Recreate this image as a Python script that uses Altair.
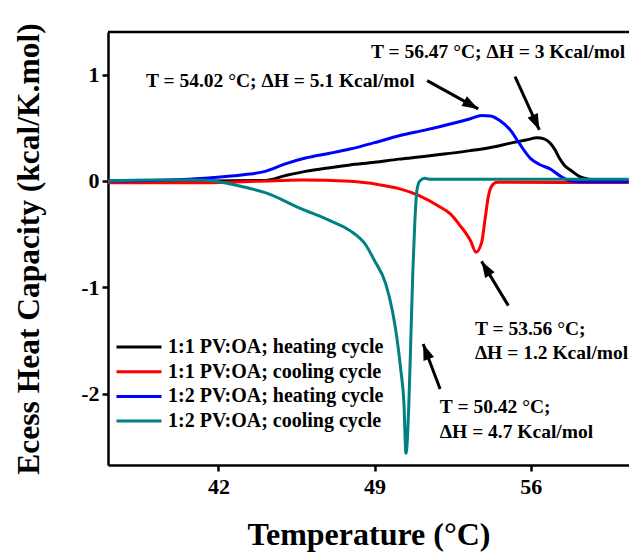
import math
import altair as alt
import pandas as pd

# ---------------- data ----------------
series_names = [
    "1:1 PV:OA; heating cycle",
    "1:1 PV:OA; cooling cycle",
    "1:2 PV:OA; heating cycle",
    "1:2 PV:OA; cooling cycle",
]
series_colors = ["#000000", "#FF0000", "#0000FF", "#008080"]

black_T = [37.05, 41.0, 44.1, 45.0, 45.9, 47.0, 47.9, 49.0, 50.1, 51.2, 52.2, 53.3, 54.2, 55.2,
           55.8, 56.3, 56.6, 56.9, 57.1, 57.3, 57.5, 57.8, 58.2, 58.7, 59.1, 60.4]
black_Cp = [0.0, 0.0, 0.005, 0.05, 0.09, 0.125, 0.15, 0.175, 0.205, 0.23, 0.255, 0.285, 0.315, 0.36,
            0.385, 0.405, 0.395, 0.35, 0.29, 0.21, 0.15, 0.10, 0.04, 0.012, 0.0, 0.0]

red_T = [37.05, 41.4, 44.1, 45.7, 47.9, 49.2, 50.1, 51.0, 51.9, 52.4, 52.8, 53.3, 53.55, 53.8,
         53.95, 54.1, 54.26, 54.5, 60.4]
red_Cp = [-0.018, -0.018, 0.0, 0.008, -0.004, -0.035, -0.072, -0.138, -0.24, -0.31, -0.41, -0.56,
          -0.67, -0.58, -0.37, -0.15, -0.045, -0.013, -0.015]

blue_T = [37.05, 39.0, 41.4, 43.2, 44.1, 45.0, 45.9, 47.0, 47.9, 49.0, 50.1, 51.3, 52.4, 53.3,
          53.8, 54.2, 54.6, 55.1, 55.5, 56.0, 56.4, 56.9, 57.3, 57.8, 58.2, 60.4]
blue_Cp = [0.0, 0.005, 0.025, 0.06, 0.09, 0.16, 0.215, 0.26, 0.30, 0.36, 0.425, 0.48, 0.535, 0.585,
           0.615, 0.61, 0.57, 0.475, 0.35, 0.21, 0.155, 0.11, 0.05, 0.0, -0.007, -0.007]

teal_T = [37.05, 39.0, 41.0, 41.8, 43.2, 44.1, 45.7, 47.0, 47.9, 48.6, 49.0, 49.5, 49.8, 50.0,
          50.18, 50.32, 50.41, 50.54, 50.63, 50.72, 50.81, 50.9, 51.03, 51.26, 51.5, 60.4]
teal_Cp = [0.0, 0.01, 0.01, 0.0, -0.06, -0.11, -0.26, -0.373, -0.467, -0.6, -0.749, -0.965, -1.22,
           -1.47, -1.78, -2.09, -2.56, -2.09, -1.47, -0.84, -0.373, -0.09, 0.0, 0.025, 0.015, 0.015]

x_ticks = [42, 49, 56]
y_ticks = [-2, -1, 0, 1]
x_domain = [37.05, 60.41]
y_domain = [-2.67, 1.40]

# annotations
note_text = ["T = 54.02 \u00b0C; \u0394H = 5.1 Kcal/mol",
             "T = 56.47 \u00b0C; \u0394H = 3 Kcal/mol",
             "T = 53.56 \u00b0C;", "\u0394H = 1.2 Kcal/mol",
             "T = 50.42 \u00b0C;", "\u0394H = 4.7 Kcal/mol"]
note_x = [38.75, 48.84, 53.50, 53.50, 51.93, 51.93]
note_y = [0.936, 1.209, -1.388, -1.62, -2.128, -2.363]

arrow_x = [51.36, 55.30, 55.0, 51.94]
arrow_y = [0.943, 0.980, -1.172, -1.955]
arrow_x2 = [53.65, 56.39, 53.80, 51.18]
arrow_y2 = [0.677, 0.479, -0.756, -1.532]

# ---------------- layout ----------------
W, H = 521, 433
FONT = "Liberation Serif"

rows = []
for name, T, C in zip(series_names, [black_T, red_T, blue_T, teal_T],
                      [black_Cp, red_Cp, blue_Cp, teal_Cp]):
    for i, (t, c) in enumerate(zip(T, C)):
        rows.append({"series": name, "T": t, "Cp": c, "i": i})
df = pd.DataFrame(rows)

px_x = W / (x_domain[1] - x_domain[0])
px_y = H / (y_domain[1] - y_domain[0])
angles = []
for x1, y1, x2, y2 in zip(arrow_x, arrow_y, arrow_x2, arrow_y2):
    dx = (x2 - x1) * px_x
    dy = -(y2 - y1) * px_y
    angles.append(math.degrees(math.atan2(dx, -dy)) % 360)
arrows = pd.DataFrame({"x": arrow_x, "y": arrow_y, "x2": arrow_x2, "y2": arrow_y2, "angle": angles})
notes = pd.DataFrame({"text": note_text, "x": note_x, "y": note_y})

xscale = alt.Scale(domain=x_domain, nice=False, zero=False)
yscale = alt.Scale(domain=y_domain, nice=False, zero=False)

lines = alt.Chart(df).mark_line(strokeWidth=3, interpolate="monotone", clip=True).encode(
    x=alt.X("T:Q", scale=xscale,
            axis=alt.Axis(values=x_ticks, title="Temperature (\u00b0C)", titleFontSize=32,
                          titlePadding=22)),
    y=alt.Y("Cp:Q", scale=yscale,
            axis=alt.Axis(values=y_ticks, title="Ecess Heat Capacity (kcal/K.mol)",
                          titleFontSize=31.5, titlePadding=35, labelPadding=3,
                          labelExpr="'' + datum.value")),
    color=alt.Color("series:N",
                    scale=alt.Scale(domain=series_names, range=series_colors),
                    legend=alt.Legend(orient="none", legendX=21, legendY=305, title=None,
                                      symbolType="M-4,0H4", symbolSize=127,
                                      symbolStrokeWidth=3, labelFont=FONT,
                                      labelFontSize=20, labelFontWeight="bold",
                                      labelColor="black", rowPadding=4.7, labelOffset=19,
                                      labelLimit=0)),
    order="i:Q",
)

top_rule = alt.Chart(pd.DataFrame({"a": [0]})).mark_rule(strokeWidth=2.5, color="black").encode(
    y=alt.value(0))

shafts = alt.Chart(arrows).mark_rule(strokeWidth=3, color="black").encode(
    x="x:Q", y="y:Q", x2="x2:Q", y2="y2:Q")
heads = alt.Chart(arrows).mark_point(
    shape="M0,0L-0.7,2L0.7,2Z", filled=True, opacity=1, color="black", size=256).encode(
    x="x2:Q", y="y2:Q", angle=alt.Angle("angle:Q", scale=None))

texts = alt.Chart(notes).mark_text(
    align="left", baseline="middle", font=FONT, fontSize=19.5, fontWeight="bold", color="black"
).encode(x="x:Q", y="y:Q", text="text:N")

chart = alt.layer(lines, top_rule, shafts, heads, texts).properties(
    width=W, height=H,
    autosize=alt.AutoSizeParams(type="none"),
    padding={"left": 100, "top": 24, "right": 0, "bottom": 87},
).configure_view(stroke=None).configure_axis(
    grid=False, domainColor="black", domainWidth=2.5, tickColor="black", tickWidth=2.5,
    tickSize=6, labelFont=FONT, labelFontSize=22, labelFontWeight="bold", labelColor="black",
    labelPadding=5, titleFont=FONT, titleFontWeight="bold", titleColor="black",
).configure_legend(padding=0)

chart.save("out.html", embed_options={"renderer": "svg", "actions": False})
